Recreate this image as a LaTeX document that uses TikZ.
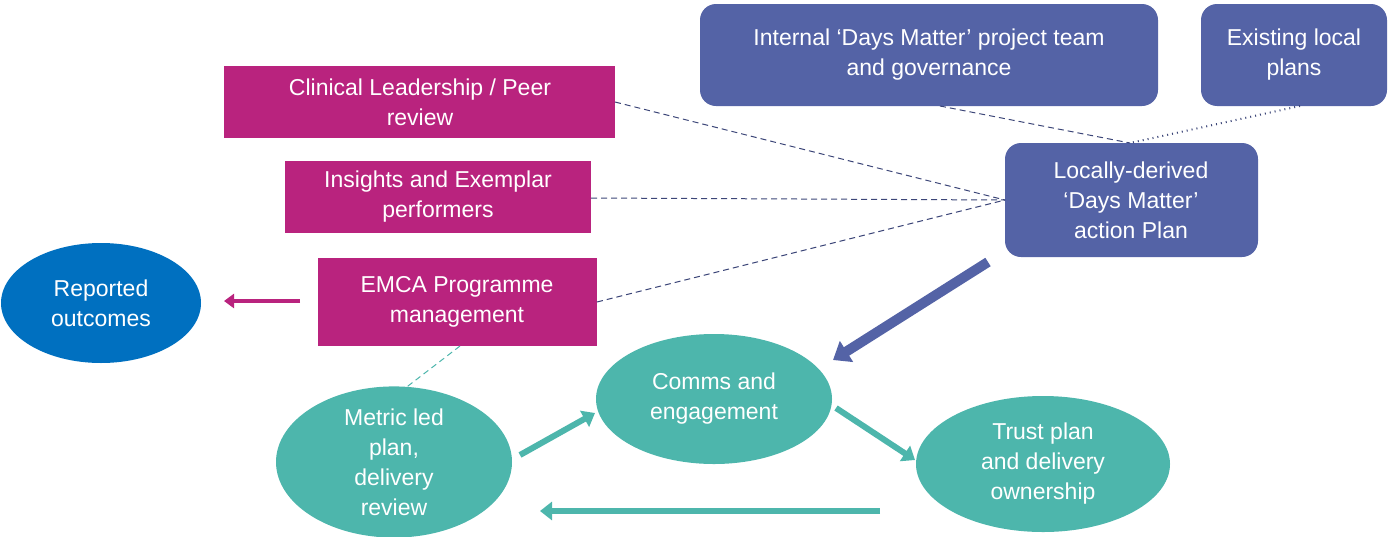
\documentclass[tikz,border=0pt]{standalone}
\usetikzlibrary{shapes.geometric,arrows.meta}
\usepackage{fontspec}
\setmainfont{Liberation Sans}
\begin{document}
\begin{tikzpicture}[x=0.5pt,y=-0.5pt,
  blu/.style={draw=none,fill={rgb,255:red,84;green,99;blue,166},rounded corners=8pt,text=white,align=center,font=\fontsize{11.5}{15}\selectfont,inner sep=0},
  mag/.style={draw=none,fill={rgb,255:red,185;green,35;blue,126},text=white,align=center,font=\fontsize{11.5}{15}\selectfont,inner sep=0},
  tel/.style={ellipse,draw=none,fill={rgb,255:red,77;green,182;blue,172},text=white,align=center,font=\fontsize{11.5}{15}\selectfont,inner sep=0},
  dl/.style={densely dashed,draw={rgb,255:red,60;green,70;blue,120},line width=0.5pt},
  tarr/.style={draw={rgb,255:red,77;green,182;blue,172},line width=3pt,-{Triangle[length=6pt,width=9pt]}}]
\useasboundingbox (0,0) rectangle (1391,536);
\path[blu] (700,4) rectangle (1158,106);
\node[blu,fill=none] (int) at (929,55) {Internal ‘Days Matter’ project team\\and governance};
\path[blu] (1201,4) rectangle (1387,106);
\node[blu,fill=none] (ex) at (1294,55) {Existing local\\plans};
\path[blu] (1005,143) rectangle (1258,257);
\node[blu,fill=none] (loc) at (1131,200) {Locally-derived\\‘Days Matter’\\action Plan};
\path[mag] (224,66) rectangle (615,138);
\node[mag,fill=none] (cl) at (420,102) {Clinical Leadership / Peer\\review};
\path[mag] (285,161) rectangle (591,233);
\node[mag,fill=none] (ins) at (438,197) {Insights and Exemplar\\performers};
\path[mag] (318,258) rectangle (597,346);
\node[mag,fill=none] (emca) at (457,302) {EMCA Programme\\management};
\node[tel,fill={rgb,255:red,0;green,112;blue,192},minimum width=100pt,minimum height=60pt] (rep) at (101,303) {Reported\\outcomes};
\node[tel,minimum width=118pt,minimum height=65pt] (com) at (714,399) {Comms and\\engagement};
\node[tel,minimum width=118pt,minimum height=70pt] (met) at (394,462) {Metric led\\plan,\\delivery\\review};
\node[tel,minimum width=127pt,minimum height=68pt] (tr) at (1043,464) {Trust plan\\and delivery\\ownership};
\coordinate (a1) at (300,301); \coordinate (a2) at (224,301);
\draw[draw={rgb,255:red,185;green,35;blue,126},line width=2pt,-{Triangle[length=5pt,width=7pt]}] (a1) -- (a2);
\coordinate (b1) at (988,262); \coordinate (b2) at (833,360);
\draw[draw={rgb,255:red,84;green,99;blue,166},line width=5pt,-{Triangle[length=8pt,width=12pt]}] (b1) -- (b2);
\coordinate (c1) at (520,455); \coordinate (c2) at (595,413);
\coordinate (d1) at (836,408); \coordinate (d2) at (915,460);
\coordinate (e1) at (880,511); \coordinate (e2) at (540,511);
\draw[tarr] (c1) -- (c2);
\draw[tarr] (d1) -- (d2);
\draw[tarr] (e1) -- (e2);
\coordinate (L) at (1005,200);
\draw[dl] (615,102) -- (L);
\draw[dl] (591,198) -- (L);
\draw[dl] (597,302) -- (L);
\draw[dl] (940,106) -- (1130,143);
\draw[dl,dotted,line width=1pt] (1300,106) -- (1130,143);
\draw[densely dashed,draw={rgb,255:red,77;green,182;blue,172},line width=0.5pt] (460,346) -- (395,396);
\end{tikzpicture}
\end{document}
